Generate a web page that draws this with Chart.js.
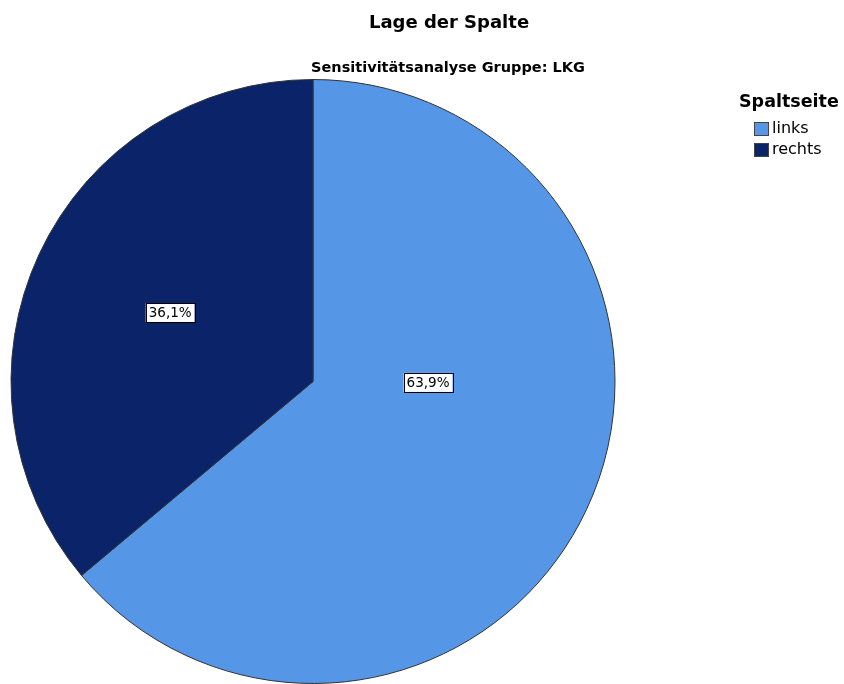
<!DOCTYPE html>
<html>
<head>
<meta charset="utf-8">
<script src="https://cdn.jsdelivr.net/npm/chart.js@4"></script>
<style>
  body { margin: 0; background: #fff; }
  canvas { display: block; }
</style>
</head>
<body>
<canvas id="spaltChart" width="844" height="684"></canvas>
<script>
// Spaltseite – Anteile in Prozent
const seiten = ['links', 'rechts'];
const anteile = [63.9, 36.1];
const farben = ['#5596e6', '#0b2469'];

const FONT = '"DejaVu Sans", "Liberation Sans", sans-serif';

// Wo die Prozentkästchen liegen (relativ zum Radius, vom Mittelpunkt aus)
const labelSpots = [[0.381, 0.003], [-0.473, -0.228]];

const titelPlugin = {
    id: 'titel',
    afterDraw(chart) {
        const ctx = chart.ctx;
        ctx.save();
        ctx.fillStyle = '#000';
        ctx.textAlign = 'center';
        ctx.textBaseline = 'middle';
        ctx.font = 'bold 18px ' + FONT;
        ctx.fillText('Lage der Spalte', 449, 23);
        ctx.font = 'bold 14.5px ' + FONT;
        ctx.fillText('Sensitivitätsanalyse Gruppe: LKG', 448, 68);

        // Legende
        ctx.textAlign = 'left';
        ctx.font = 'bold 17.5px ' + FONT;
        ctx.fillText('Spaltseite', 739, 102);
        ctx.font = '16px ' + FONT;
        seiten.forEach((s, i) => {
            const y = 129 + i * 21;
            ctx.fillStyle = farben[i];
            ctx.fillRect(754, y - 7, 15, 14);
            ctx.strokeStyle = '#444';
            ctx.lineWidth = 1;
            ctx.strokeRect(754.5, y - 6.5, 14, 13);
            ctx.fillStyle = '#000';
            ctx.fillText(s, 772, y);
        });

        // Prozentwerte in den Segmenten
        const meta = chart.getDatasetMeta(0);
        ctx.font = '13.5px ' + FONT;
        ctx.textAlign = 'center';
        meta.data.forEach((arc, i) => {
            const r = arc.outerRadius;
            const x = arc.x + labelSpots[i][0] * r;
            const y = arc.y + labelSpots[i][1] * r;
            const txt = anteile[i].toFixed(1).replace('.', ',') + '%';
            const w = ctx.measureText(txt).width + 6;
            const h = 19;
            ctx.fillStyle = '#fff';
            ctx.fillRect(x - w / 2, y - h / 2, w, h);
            ctx.strokeStyle = '#000';
            ctx.strokeRect(Math.round(x - w / 2) + 0.5, Math.round(y - h / 2) + 0.5, Math.round(w), h);
            ctx.fillStyle = '#000';
            ctx.fillText(txt, x, y + 1);
        });
        ctx.restore();
    }
};

new Chart(document.getElementById('spaltChart'), {
    type: 'pie',
    data: {
        labels: seiten,
        datasets: [{
            data: anteile,
            backgroundColor: farben,
            borderColor: '#333',
            borderWidth: 1
        }]
    },
    options: {
        responsive: false,
        animation: false,
        layout: { padding: { left: 10, top: 79, right: 228, bottom: 0 } },
        plugins: {
            legend: { display: false },
            tooltip: { enabled: false }
        }
    },
    plugins: [titelPlugin]
});
</script>
</body>
</html>
